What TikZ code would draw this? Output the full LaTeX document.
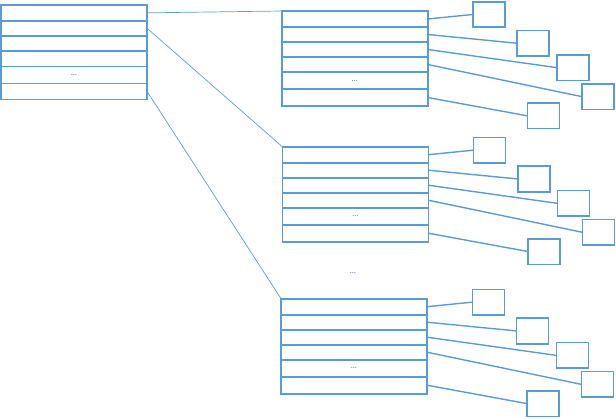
\documentclass[tikz,border=0pt]{standalone}
\usetikzlibrary{positioning,calc}
\definecolor{tblue}{HTML}{5B9BD5}
\definecolor{dblue}{HTML}{4A7EBB}
\tikzset{
  rowbox/.style={draw=tblue, line width=1.6pt, minimum width=146pt, inner sep=0pt, outer sep=0pt, anchor=north west},
  leaf/.style={draw=tblue, line width=1.6pt, minimum width=32pt, minimum height=25.5pt, inner sep=0pt, outer sep=0pt, anchor=north west},
  conn/.style={draw=tblue, line width=1.4pt},
  mainconn/.style={draw=tblue, line width=0.7pt},
  dotstext/.style={text=dblue, font=\fontsize{11}{11}\selectfont},
}
\newcommand\mktable[3]{%
  \node[rowbox, minimum height=16pt] (#1r1) at (#2,#3) {};
  \node[rowbox, minimum height=15pt] (#1r2) at (#1r1.south west) {};
  \node[rowbox, minimum height=15pt] (#1r3) at (#1r2.south west) {};
  \node[rowbox, minimum height=15pt] (#1r4) at (#1r3.south west) {};
  \node[rowbox, minimum height=17pt, dotstext] (#1r5) at (#1r4.south west) {\ldots};
  \node[rowbox, minimum height=17pt] (#1r6) at (#1r5.south west) {};
}
\newcommand\mkleaves[3]{%
  \node[leaf] (#1a) at ($(#2,#3)+(191.3,-9.3)$) {};
  \node[leaf] (#1b) at ($(#2,#3)+(235.5,19.5)$) {};
  \node[leaf] (#1c) at ($(#2,#3)+(275.3,43.9)$) {};
  \node[leaf] (#1d) at ($(#2,#3)+(300.3,72.9)$) {};
  \node[leaf] (#1e) at ($(#2,#3)+(245.8,92.1)$) {};
  \draw[conn] (#1r1.east) -- (#1a.west);
  \draw[conn] (#1r2.east) -- (#1b.west);
  \draw[conn] (#1r3.east) -- (#1c.west);
  \draw[conn] (#1r4.east) -- (#1d.west);
  \draw[conn] (#1r6.east) -- (#1e.west);
}
\begin{document}
\begin{tikzpicture}[x=1pt, y=-1pt]
  \useasboundingbox (0,0) rectangle (616,418);
  % left table
  \node[rowbox, minimum height=15.7pt] (t1r1) at (1,5) {};
  \node[rowbox, minimum height=15pt] (t1r2) at (t1r1.south west) {};
  \node[rowbox, minimum height=15.3pt] (t1r3) at (t1r2.south west) {};
  \node[rowbox, minimum height=15.3pt] (t1r4) at (t1r3.south west) {};
  \node[rowbox, minimum height=17pt, dotstext] (t1r5) at (t1r4.south west) {\ldots};
  \node[rowbox, minimum height=16pt] (t1r6) at (t1r5.south west) {};
  % sub tables
  \mktable{t2}{281.7}{11}
  \mktable{t3}{282.3}{146.7}
  \mktable{t4}{281}{298.7}
  \mkleaves{t2}{281.7}{11}
  \mkleaves{t3}{282.3}{146.7}
  \mkleaves{t4}{281}{298.7}
  % main connectors
  \draw[mainconn] (t1r1.east) -- (t2r1.north west);
  \draw[mainconn] (t1r2.east) -- (t3r1.north west);
  \draw[mainconn] (t1r6.east) -- (t4r1.north west);
  % middle dots
  \node[dotstext] (middots) at (353,273) {\ldots};
\end{tikzpicture}
\end{document}
